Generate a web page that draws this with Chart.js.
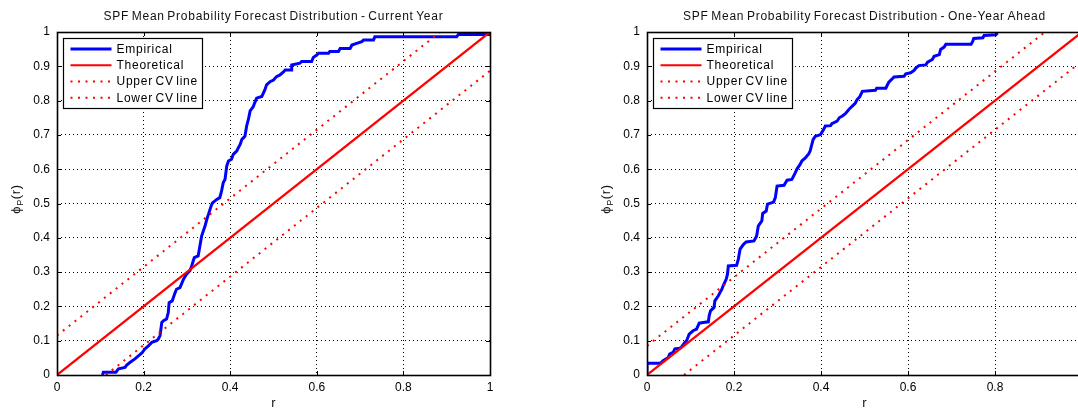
<!DOCTYPE html>
<html>
<head>
<meta charset="utf-8">
<script src="https://cdn.jsdelivr.net/npm/chart.js@4.4.0/dist/chart.umd.min.js"></script>
<style>
    html, body { margin: 0; padding: 0; background: #fff; overflow: hidden; width: 1078px; height: 410px; }
    .panel { position: absolute; top: 0; width: 540px; height: 410px; }
</style>
</head>
<body>
<div class="panel" style="left:0"><canvas id="current" width="540" height="410"></canvas></div>
<div class="panel" style="left:590px"><canvas id="ahead" width="540" height="410"></canvas></div>
<script>
const titles = [
    'SPF Mean Probability Forecast Distribution - Current Year',
    'SPF Mean Probability Forecast Distribution - One-Year Ahead'
]
const legendLabels = ['Empirical', 'Theoretical', 'Upper CV line', 'Lower CV line']

const xTicks = [0, 0.2, 0.4, 0.6, 0.8, 1]
const xTickLabels = ['0', '0.2', '0.4', '0.6', '0.8', '1']
const yTicks = [0, 0.1, 0.2, 0.3, 0.4, 0.5, 0.6, 0.7, 0.8, 0.9, 1]
const yTickLabels = ['0', '0.1', '0.2', '0.3', '0.4', '0.5', '0.6', '0.7', '0.8', '0.9', '1']

// current year - empirical cdf (r, phi)
const curEmpR = [
    0.105, 0.107, 0.136, 0.142, 0.157, 0.161, 0.169, 0.180, 0.188, 0.196,
    0.203, 0.211, 0.219, 0.230, 0.234, 0.238, 0.242, 0.246, 0.253, 0.257,
    0.259, 0.266, 0.273, 0.276, 0.284, 0.292, 0.299, 0.307, 0.311, 0.317,
    0.326, 0.330, 0.334, 0.342, 0.346, 0.350, 0.356, 0.359, 0.369, 0.376,
    0.380, 0.384, 0.388, 0.392, 0.396, 0.403, 0.407, 0.415, 0.419, 0.423,
    0.427, 0.434, 0.438, 0.442, 0.446, 0.453, 0.461, 0.473, 0.480, 0.484,
    0.492, 0.500, 0.507, 0.515, 0.523, 0.527, 0.542, 0.542, 0.561, 0.565,
    0.588, 0.592, 0.600, 0.604, 0.627, 0.630, 0.650, 0.654, 0.677, 0.681,
    0.692, 0.704, 0.708, 0.731, 0.734, 0.923, 0.927, 1.000
]
const curEmpP = [
    0, 0.008, 0.008, 0.018, 0.022, 0.029, 0.037, 0.047, 0.056, 0.064,
    0.076, 0.085, 0.095, 0.100, 0.105, 0.115, 0.153, 0.158, 0.163, 0.182,
    0.211, 0.216, 0.241, 0.250, 0.255, 0.279, 0.294, 0.304, 0.318, 0.342,
    0.347, 0.376, 0.405, 0.435, 0.454, 0.469, 0.493, 0.502, 0.512, 0.517,
    0.536, 0.561, 0.570, 0.609, 0.624, 0.629, 0.643, 0.653, 0.663, 0.672,
    0.687, 0.696, 0.726, 0.745, 0.770, 0.782, 0.807, 0.812, 0.831, 0.846,
    0.855, 0.860, 0.870, 0.875, 0.884, 0.889, 0.889, 0.904, 0.909, 0.914,
    0.914, 0.926, 0.933, 0.938, 0.938, 0.943, 0.943, 0.952, 0.952, 0.962,
    0.967, 0.972, 0.977, 0.977, 0.986, 0.986, 0.993, 0.993
]
const curTheoR = [0, 1]
const curTheoP = [0, 1]
const curUpperR = [0, 0.885]
const curUpperP = [0.115, 1]
const curLowerR = [0.113, 1]
const curLowerP = [0, 0.887]

// one-year ahead
const aheadEmpR = [
    0, 0, 0.031, 0.037, 0.049, 0.052, 0.060, 0.064, 0.075, 0.079,
    0.087, 0.091, 0.097, 0.106, 0.114, 0.120, 0.129, 0.141, 0.143, 0.146,
    0.154, 0.156, 0.164, 0.168, 0.172, 0.175, 0.182, 0.185, 0.187, 0.206,
    0.210, 0.214, 0.222, 0.228, 0.246, 0.252, 0.256, 0.264, 0.266, 0.274,
    0.277, 0.291, 0.295, 0.299, 0.315, 0.322, 0.333, 0.337, 0.341, 0.345,
    0.352, 0.356, 0.364, 0.372, 0.375, 0.382, 0.387, 0.399, 0.406, 0.410,
    0.422, 0.425, 0.437, 0.442, 0.449, 0.456, 0.464, 0.468, 0.472, 0.479,
    0.483, 0.489, 0.495, 0.525, 0.528, 0.549, 0.552, 0.556, 0.568, 0.591,
    0.595, 0.606, 0.614, 0.618, 0.625, 0.641, 0.645, 0.656, 0.660, 0.672,
    0.675, 0.683, 0.687, 0.745, 0.749, 0.751, 0.772, 0.775, 0.802, 0.806
]
const aheadEmpP = [
    0, 0.034, 0.034, 0.042, 0.051, 0.061, 0.066, 0.076, 0.078, 0.081,
    0.095, 0.100, 0.119, 0.129, 0.134, 0.151, 0.153, 0.155, 0.173, 0.187,
    0.197, 0.216, 0.231, 0.241, 0.250, 0.260, 0.279, 0.294, 0.318, 0.320,
    0.338, 0.367, 0.381, 0.388, 0.391, 0.405, 0.435, 0.449, 0.471, 0.478,
    0.498, 0.504, 0.517, 0.551, 0.553, 0.568, 0.570, 0.580, 0.590, 0.601,
    0.614, 0.624, 0.633, 0.645, 0.653, 0.687, 0.696, 0.701, 0.716, 0.726,
    0.727, 0.733, 0.740, 0.750, 0.755, 0.762, 0.774, 0.779, 0.784, 0.793,
    0.803, 0.811, 0.827, 0.830, 0.836, 0.836, 0.844, 0.854, 0.869, 0.871,
    0.878, 0.881, 0.888, 0.895, 0.902, 0.904, 0.912, 0.920, 0.929, 0.934,
    0.949, 0.956, 0.964, 0.964, 0.973, 0.981, 0.983, 0.990, 0.992, 0.997
]
const aheadTheoR = [0, 1]
const aheadTheoP = [0, 1]
const aheadUpperR = [0, 0.915]
const aheadUpperP = [0.085, 1]
const aheadLowerR = [0.085, 1]
const aheadLowerP = [0, 0.915]

const FONT = "'Liberation Sans', Arial, Helvetica, sans-serif"
Chart.defaults.font.family = FONT
Chart.defaults.font.size = 12
Chart.defaults.color = '#000'

const pts = (xs, ys) => xs.map((x, i) => ({ x: x, y: ys[i] }))

// matlab-like frame, inward ticks, legend box, title and axis labels
const matlabFrame = {
    id: 'matlabFrame',
    afterDraw(chart, args, opts) {
        const ctx = chart.ctx
        const a = chart.chartArea
        const sx = chart.scales.x
        const sy = chart.scales.y
        ctx.save()

        // box
        ctx.strokeStyle = '#000'
        ctx.lineWidth = 1.6
        ctx.strokeRect(Math.round(a.left) + 0.5, Math.round(a.top) + 0.5,
            Math.round(a.right - a.left), Math.round(a.bottom - a.top))

        // inward ticks on all four sides
        ctx.lineWidth = 1
        ctx.beginPath()
        xTicks.forEach(v => {
            const px = Math.round(sx.getPixelForValue(v)) + 0.5
            ctx.moveTo(px, a.bottom); ctx.lineTo(px, a.bottom - 4)
            ctx.moveTo(px, a.top); ctx.lineTo(px, a.top + 4)
        })
        yTicks.forEach(v => {
            const py = Math.round(sy.getPixelForValue(v)) + 0.5
            ctx.moveTo(a.left, py); ctx.lineTo(a.left + 4, py)
            ctx.moveTo(a.right, py); ctx.lineTo(a.right - 4, py)
        })
        ctx.stroke()

        // legend
        const lx = Math.round(a.left) + 6.5
        const ly = Math.round(a.top) + 6.5
        ctx.fillStyle = '#fff'
        ctx.fillRect(lx, ly, 139, 70)
        ctx.strokeStyle = '#000'
        ctx.lineWidth = 1.2
        ctx.strokeRect(lx, ly, 139, 70)
        ctx.font = '12px ' + FONT
        ctx.letterSpacing = '0.75px'
        ctx.wordSpacing = '-1.5px'
        ctx.textAlign = 'left'
        ctx.textBaseline = 'middle'
        chart.data.datasets.forEach((ds, i) => {
            const rowY = ly + 10.5 + i * 16.25
            ctx.save()
            ctx.strokeStyle = ds.borderColor
            ctx.lineWidth = ds.borderWidth
            ctx.setLineDash(ds.borderDash || [])
            ctx.beginPath()
            ctx.moveTo(lx + 7, rowY)
            ctx.lineTo(lx + 48, rowY)
            ctx.stroke()
            ctx.restore()
            ctx.fillStyle = '#000'
            ctx.fillText(ds.label, lx + 53, rowY + 0.5)
        })

        // title
        ctx.font = '12px ' + FONT
        ctx.textAlign = 'center'
        ctx.textBaseline = 'middle'
        ctx.fillStyle = '#111'
        ctx.fillText(opts.title, (a.left + a.right) / 2, 16.5)

        // x label
        ctx.letterSpacing = '0px'
        ctx.textBaseline = 'alphabetic'
        ctx.font = '13px ' + FONT
        ctx.fillText('r', (a.left + a.right) / 2, 407)

        // y label: phi with subscript P, rotated
        ctx.translate(20, 199)
        ctx.rotate(-Math.PI / 2)
        ctx.textAlign = 'left'
        ctx.letterSpacing = '0.6px'
        ctx.font = '13px ' + FONT
        const wPhi = ctx.measureText('\u03d5').width
        const wR = ctx.measureText('(r)').width
        ctx.font = '9px ' + FONT
        const wP = ctx.measureText('P').width
        let x0 = -(wPhi + wP + wR) / 2
        ctx.font = '13px ' + FONT
        ctx.fillText('\u03d5', x0, 0)
        ctx.font = '9px ' + FONT
        ctx.fillText('P', x0 + wPhi, 2.5)
        ctx.font = '13px ' + FONT
        ctx.fillText('(r)', x0 + wPhi + wP, 0)

        ctx.restore()
    }
}

function makeChart(id, title, rightPad, emp, theo, upper, lower) {
    return new Chart(document.getElementById(id), {
        type: 'scatter',
        data: {
            datasets: [
                {
                    label: legendLabels[0], data: emp, showLine: true,
                    borderColor: '#0000ff', borderWidth: 3, pointRadius: 0,
                    borderJoinStyle: 'miter', tension: 0, order: 1
                },
                {
                    label: legendLabels[1], data: theo, showLine: true,
                    borderColor: '#ff0000', borderWidth: 2.2, pointRadius: 0, order: 0
                },
                {
                    label: legendLabels[2], data: upper, showLine: true,
                    borderColor: '#ff0000', borderWidth: 2, borderDash: [2, 5.5],
                    pointRadius: 0, order: 0
                },
                {
                    label: legendLabels[3], data: lower, showLine: true,
                    borderColor: '#ff0000', borderWidth: 2, borderDash: [2, 5.5],
                    pointRadius: 0, order: 0
                }
            ]
        },
        options: {
            responsive: false,
            animation: false,
            events: [],
            layout: { padding: { top: 32, left: 0, right: rightPad, bottom: 0 } },
            plugins: {
                legend: { display: false },
                title: { display: false },
                tooltip: { enabled: false },
                matlabFrame: { title: title }
            },
            scales: {
                x: {
                    type: 'linear', min: 0, max: 1,
                    afterBuildTicks: s => { s.ticks = xTicks.map(v => ({ value: v })) },
                    afterFit: s => { s.height = 35 },
                    ticks: {
                        callback: (v, i) => xTickLabels[i],
                        maxRotation: 0, padding: 5, color: '#000'
                    },
                    grid: { color: '#000', lineWidth: 1, drawTicks: false },
                    border: { display: false, dash: [1, 3] }
                },
                y: {
                    type: 'linear', min: 0, max: 1,
                    afterBuildTicks: s => { s.ticks = yTicks.map(v => ({ value: v })) },
                    afterFit: s => { s.width = 57 },
                    ticks: {
                        callback: (v, i) => yTickLabels[i],
                        padding: 7, color: '#000'
                    },
                    grid: { color: '#000', lineWidth: 1, drawTicks: false },
                    border: { display: false, dash: [1, 3] }
                }
            }
        },
        plugins: [matlabFrame]
    })
}

makeChart('current', titles[0], 50,
    pts(curEmpR, curEmpP), pts(curTheoR, curTheoP),
    pts(curUpperR, curUpperP), pts(curLowerR, curLowerP))

makeChart('ahead', titles[1], 48,
    pts(aheadEmpR, aheadEmpP), pts(aheadTheoR, aheadTheoP),
    pts(aheadUpperR, aheadUpperP), pts(aheadLowerR, aheadLowerP))
</script>
</body>
</html>
